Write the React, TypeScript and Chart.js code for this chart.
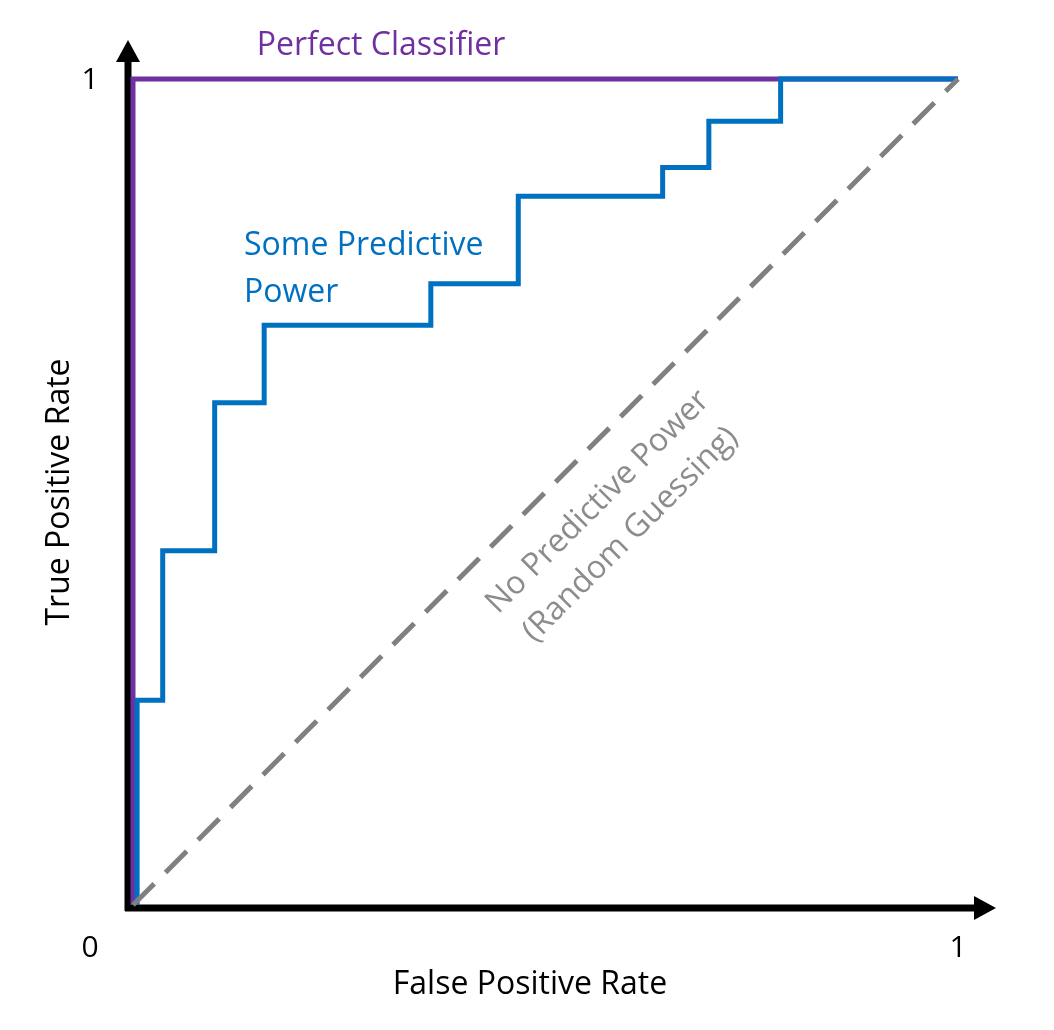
import React, { useEffect, useRef } from 'react';
import Chart from 'chart.js/auto';

const rocX = [0.005, 0.036, 0.099, 0.159, 0.361, 0.467, 0.642, 0.698, 0.785, 1];
const rocY = [0, 0.248, 0.429, 0.608, 0.702, 0.752, 0.858, 0.893, 0.949, 1];
const perfectX = [0, 0, 1];
const perfectY = [0, 1, 1];
const randomX = [0, 1];
const randomY = [0, 1];

const FONT = '"Open Sans", sans-serif';

const overlay = {
    id: 'overlay',
    beforeDatasetsDraw(chart: any) {
        const { ctx, chartArea: a } = chart;
        ctx.save();
        ctx.strokeStyle = '#000';
        ctx.fillStyle = '#000';
        ctx.lineWidth = 7;
        const ox = a.left - 5, oy = a.bottom + 3;
        ctx.beginPath();
        ctx.moveTo(ox, oy + 3);
        ctx.lineTo(ox, 58);
        ctx.moveTo(ox - 3, oy);
        ctx.lineTo(978, oy);
        ctx.stroke();
        ctx.beginPath();
        ctx.moveTo(ox, 40); ctx.lineTo(ox - 12, 62); ctx.lineTo(ox + 12, 62); ctx.closePath();
        ctx.moveTo(996, oy); ctx.lineTo(974, oy - 12); ctx.lineTo(974, oy + 12); ctx.closePath();
        ctx.fill();
        ctx.restore();
    },
    afterDraw(chart: any) {
        const { ctx } = chart;
        ctx.save();
        ctx.textAlign = 'center';
        ctx.textBaseline = 'middle';
        ctx.font = `30px ${FONT}`;
        ctx.fillStyle = '#000';
        ctx.fillText('0', 90, 948);
        ctx.fillText('1', 958, 948);
        ctx.fillText('1', 90, 80);
        ctx.font = `32px ${FONT}`;
        ctx.fillText('False Positive Rate', 530, 985);
        ctx.save();
        ctx.translate(60, 492);
        ctx.rotate(-Math.PI / 2);
        ctx.fillText('True Positive Rate', 0, 0);
        ctx.restore();
        ctx.fillStyle = '#7030A0';
        ctx.fillText('Perfect Classifier', 381, 46);
        ctx.fillStyle = '#0070C0';
        ctx.textAlign = 'left';
        ctx.fillText('Some Predictive', 244, 246);
        ctx.fillText('Power', 244, 293);
        ctx.fillStyle = '#8c8c8c';
        ctx.textAlign = 'center';
        ctx.save();
        ctx.translate(598, 502);
        ctx.rotate(-Math.PI / 4);
        ctx.fillText('No Predictive Power', 0, 0);
        ctx.fillText('(Random Guessing)', 0, 46);
        ctx.restore();
        ctx.restore();
    }
};

export default function App() {
    const ref = useRef<HTMLCanvasElement>(null);
    useEffect(() => {
        if (!ref.current) return;
        const pts = (xs: number[], ys: number[]) => xs.map((x, i) => ({ x, y: ys[i] }));
        const chart = new Chart(ref.current, {
            type: 'line',
            data: {
                datasets: [
                    { data: pts(randomX, randomY), borderColor: '#808080', borderWidth: 5, borderDash: [30, 16], pointRadius: 0 },
                    { data: pts(rocX, rocY), borderColor: '#0070C0', borderWidth: 5, stepped: 'after', pointRadius: 0 },
                    { data: pts(perfectX, perfectY), borderColor: '#7030A0', borderWidth: 5, pointRadius: 0 },
                ]
            },
            options: {
                animation: false,
                responsive: false,
                clip: false,
                layout: { padding: { left: 133, right: 96, top: 79, bottom: 125 } },
                plugins: { legend: { display: false }, tooltip: { enabled: false } },
                scales: {
                    x: { type: 'linear', min: 0, max: 1, display: false },
                    y: { type: 'linear', min: 0, max: 1, display: false }
                }
            } as any,
            plugins: [overlay]
        });
        return () => chart.destroy();
    }, []);
    return (
        <div style={{ position: 'absolute', left: 0, top: 0, width: 1054, height: 1030, background: '#fff' }}>
            <canvas ref={ref} width={1054} height={1030} />
        </div>
    );
}
